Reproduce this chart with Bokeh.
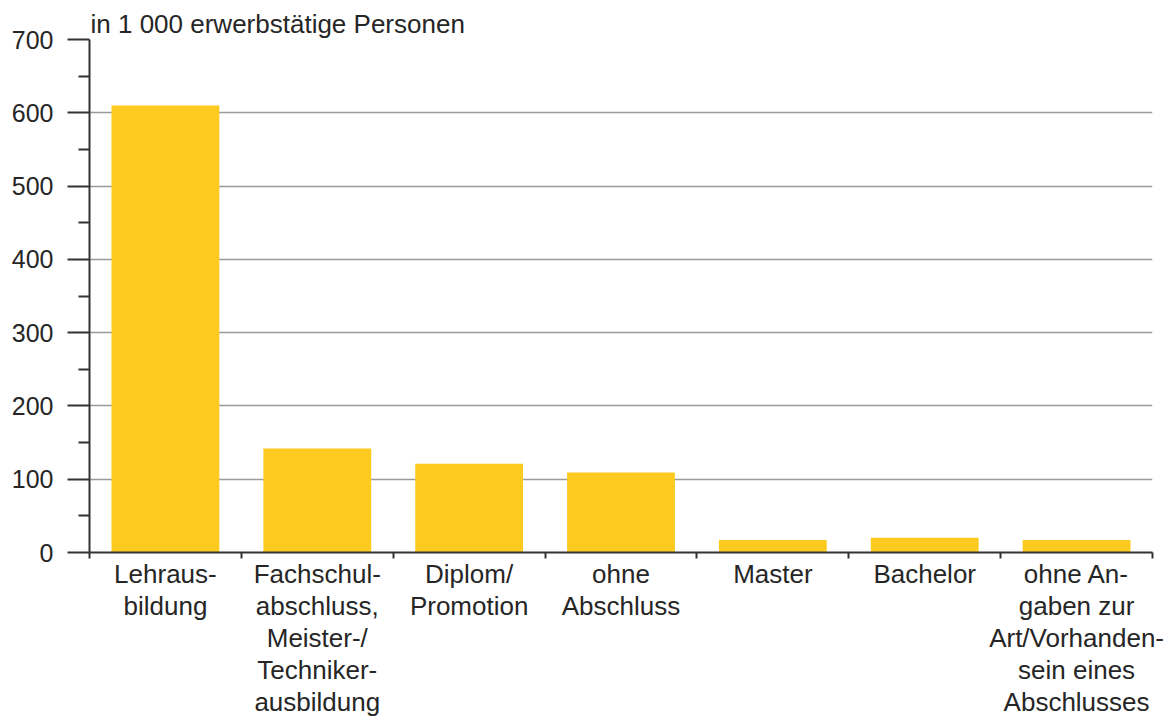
from bokeh.plotting import figure
from bokeh.models import FixedTicker, Range1d
from bokeh.embed import file_html
from bokeh.resources import INLINE

# ---- data ----
categories = [
    "Lehraus-\nbildung",
    "Fachschul-\nabschluss,\nMeister-/\nTechniker-\nausbildung",
    "Diplom/\nPromotion",
    "ohne\nAbschluss",
    "Master",
    "Bachelor",
    "ohne An-\ngaben zur\nArt/Vorhanden-\nsein eines\nAbschlusses",
]
values = [610, 142, 121, 109, 17, 20, 17]
y_ticks = [0, 100, 200, 300, 400, 500, 600, 700]
y_minor = [50, 150, 250, 350, 450, 550, 650]
unit_title = "in 1 000 erwerbstätige Personen"

FONT = "Liberation Sans"
TXT = "#262626"
BAR = "#FDCA1F"

n = len(categories)
positions = [i + 0.5 for i in range(n)]

p = figure(
    width=1168, height=720,
    x_range=Range1d(0, n), y_range=Range1d(0, 700),
    output_backend="svg", toolbar_location=None,
    min_border_left=89, min_border_right=16,
    min_border_top=39, min_border_bottom=168,
    outline_line_color=None,
)

p.vbar(x=positions, top=values, width=0.71, color=BAR, line_color=None)

# unit title
p.title.text = unit_title
p.title.align = "left"
p.title.offset = 1
p.title.standoff = 1
p.title.text_font = FONT
p.title.text_font_size = "26px"
p.title.text_font_style = "normal"
p.title.text_color = TXT

# y axis
ya = p.yaxis[0]
ya.ticker = FixedTicker(ticks=y_ticks, minor_ticks=y_minor)
ya.major_tick_out = 22
ya.major_tick_in = 0
ya.minor_tick_out = 11
ya.minor_tick_in = 0
ya.axis_line_color = "#333333"
ya.axis_line_width = 2
ya.major_tick_line_color = "#333333"
ya.major_tick_line_width = 2
ya.minor_tick_line_color = "#333333"
ya.minor_tick_line_width = 2
ya.major_label_text_font = FONT
ya.major_label_text_font_size = "25px"
ya.major_label_text_color = TXT
ya.major_label_standoff = 14

# x axis: labels at centres, ticks at boundaries
xa = p.xaxis[0]
xa.ticker = FixedTicker(ticks=positions, minor_ticks=list(range(n + 1)))
xa.major_label_overrides = {pos: cat for pos, cat in zip(positions, categories)}
xa.major_tick_out = 0
xa.major_tick_in = 0
xa.minor_tick_out = 6
xa.minor_tick_in = 0
xa.minor_tick_line_color = "#333333"
xa.minor_tick_line_width = 2
xa.axis_line_color = "#333333"
xa.axis_line_width = 2
xa.major_label_text_font = FONT
xa.major_label_text_font_size = "26px"
xa.major_label_text_color = TXT
xa.major_label_text_line_height = 1.07
xa.major_label_standoff = 0

# grid
p.xgrid.visible = False
p.ygrid.ticker = FixedTicker(ticks=y_ticks[1:])
p.ygrid.grid_line_color = "#9a9a9a"
p.ygrid.grid_line_width = 1.5

open("out.html", "w").write(file_html(p, INLINE))
